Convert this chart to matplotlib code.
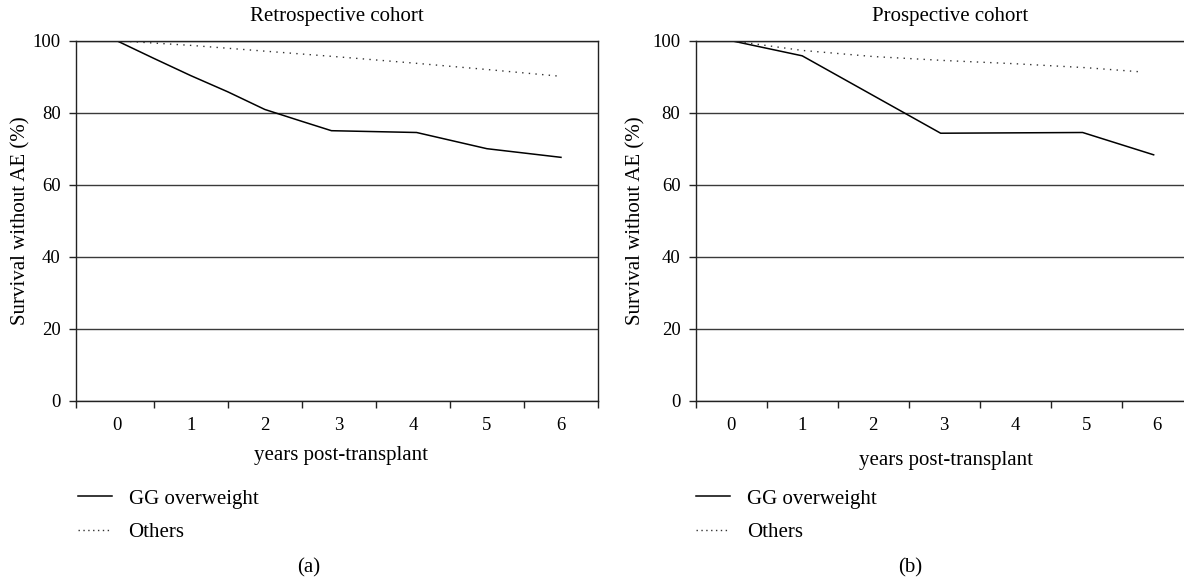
import matplotlib
matplotlib.use("Agg")
import matplotlib.pyplot as plt
from matplotlib.lines import Line2D

# ---- data ----
year_labels = ["0", "1", "2", "3", "4", "5", "6"]
y_ticks = [0, 20, 40, 60, 80, 100]

# Retrospective cohort
retro_gg_years = [0, 0.5, 1, 1.5, 2, 2.5, 2.9, 4.05, 5.0, 6.0]
retro_gg_surv = [100, 95.1, 90.3, 85.8, 80.9, 77.6, 75.0, 74.5, 70.0, 67.6]
retro_oth_years = [0, 1, 2, 3, 4, 5, 5.95]
retro_oth_surv = [100, 98.7, 97.1, 95.5, 93.8, 92.0, 90.2]

# Prospective cohort
pros_gg_years = [0, 1, 2.95, 4.95, 5.95]
pros_gg_surv = [100, 95.8, 74.3, 74.5, 68.3]
pros_oth_years = [0, 1, 2, 3, 4, 5, 5.8]
pros_oth_surv = [100, 97.3, 95.6, 94.5, 93.6, 92.5, 91.3]

series_names = ["GG overweight", "Others"]
titles = ["Retrospective cohort", "Prospective cohort"]
captions = ["(a)", "(b)"]

FONT = "Liberation Serif"
FS = 15        # labels, titles, legend
FS_TICK = 13.5
plt.rcParams["font.family"] = [FONT, "DejaVu Serif"]
plt.rcParams["font.size"] = FS

W, H = 1184, 579
fig = plt.figure(figsize=(W / 100, H / 100), dpi=100)

def px_axes(l, t, r, b):
    return [l / W, 1 - b / H, (r - l) / W, (b - t) / H]

ax_a = fig.add_axes(px_axes(76, 40.7, 598, 400.7))
ax_b = fig.add_axes(px_axes(695.7, 40.7, 695.7 + 7 * 71, 400.7))

DOT = (0, (1, 3.8))

def style(ax, xlim, xl_coords):
    ax.set_xlim(*xlim)
    ax.set_ylim(0, 100)
    ax.set_yticks(y_ticks)
    ax.set_xticks(range(len(year_labels)))
    ax.set_xticklabels(year_labels)
    bounds = [xlim[0]] + [i + 0.5 for i in range(len(year_labels) - 1)] + [xlim[1]]
    ax.set_xticks(bounds, minor=True)
    ax.tick_params(axis="x", which="major", length=0, pad=12, labelsize=FS_TICK)
    ax.tick_params(axis="x", which="minor", length=5, width=1.0, direction="out", color="#222")
    ax.tick_params(axis="y", length=5, width=1.0, direction="out", pad=6, labelsize=FS_TICK, color="#222")
    ax.yaxis.grid(True, color="#3a3a3a", lw=1.0)
    ax.set_axisbelow(True)
    for s in ax.spines.values():
        s.set_color("#222")
        s.set_linewidth(1.0)
    ax.set_ylabel("Survival without AE (%)", fontsize=FS, va="center")
    ax.set_xlabel("years post-transplant", fontsize=FS, va="center")
    ax.xaxis.set_label_coords(*xl_coords)

# panel a
l1, = ax_a.plot(retro_gg_years, retro_gg_surv, color="black", lw=1.1, solid_joinstyle="round")
l2, = ax_a.plot(retro_oth_years, retro_oth_surv, color="#333", lw=1.0, linestyle=DOT)
style(ax_a, (-0.55, 6.5), (0.5077, -0.153))
ax_a.yaxis.set_label_coords((20.6 - 76) / 522, 0.5)

# panel b
m1, = ax_b.plot(pros_gg_years, pros_gg_surv, color="black", lw=1.1, solid_joinstyle="round")
m2, = ax_b.plot(pros_oth_years, pros_oth_surv, color="#333", lw=1.0, linestyle=DOT)
style(ax_b, (-0.5, 6.5), (0.5036, -0.167))
ax_b.yaxis.set_label_coords((635.5 - 695.7) / 497, 0.5)

# titles
fig.text(337 / W, 1 - 17 / H, titles[0], ha="center", va="center", fontsize=FS)
fig.text(950 / W, 1 - 17 / H, titles[1], ha="center", va="center", fontsize=FS)

# legends
for ax, x0 in ((ax_a, 78), (ax_b, 696)):
    h1 = Line2D([], [], color="black", lw=1.1)
    h2 = Line2D([], [], color="#333", lw=1.0, linestyle=(0, (1, 2.5)))
    ax.legend([h1, h2], series_names, loc="upper left",
              bbox_to_anchor=(x0 / W, 1 - 489 / H), bbox_transform=fig.transFigure,
              frameon=False, handlelength=1.63, handletextpad=0.8,
              labelspacing=0.66, borderpad=0, borderaxespad=0, fontsize=FS)

# captions
fig.text(309 / W, 1 - 568 / H, captions[0], ha="center", va="center", fontsize=FS)
fig.text(910 / W, 1 - 568 / H, captions[1], ha="center", va="center", fontsize=FS)

fig.savefig("out.png", dpi=100)
